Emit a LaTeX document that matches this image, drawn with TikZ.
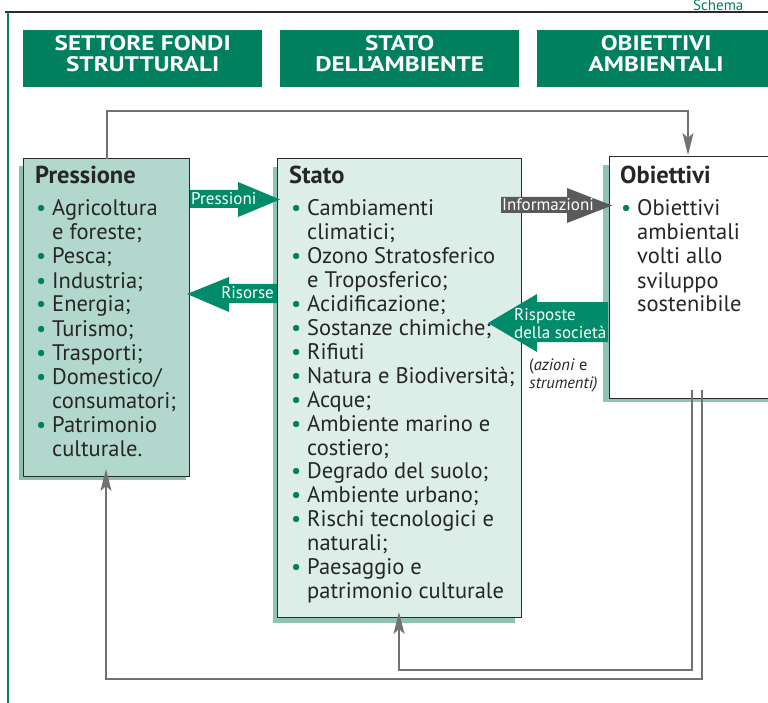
\documentclass[tikz,border=0pt]{standalone}
\usepackage{fontspec}
\setmainfont{PT Sans}
\newfontfamily\headfont[FakeStretch=1.2]{PT Sans}
\usetikzlibrary{arrows.meta}
\definecolor{hgreen}{HTML}{00805F}
\definecolor{agreen}{HTML}{008C6B}
\definecolor{pfill}{HTML}{B2D7CC}
\definecolor{pshadow}{HTML}{8BBFAE}
\definecolor{sfill}{HTML}{DDEEE8}
\definecolor{sshadow}{HTML}{8FC3B3}
\definecolor{lgray}{HTML}{727274}
\definecolor{igray}{HTML}{5A5A5C}
\definecolor{bord}{HTML}{2A2A2A}
\newcommand\bul{\makebox[16pt][l]{\textcolor{hgreen}{•}}}
\newcommand\ind{\hspace*{16pt}}
\begin{document}
\begin{tikzpicture}[x=1pt,y=-1pt,
  header/.style={fill=hgreen, minimum height=57pt, inner sep=0, anchor=north west},
  htext/.style={text=white, font=\headfont\bfseries\fontsize{21}{21.5}\selectfont, align=center, inner sep=0},
  boxnode/.style={draw=bord, line width=1pt, inner sep=0, outer sep=0, anchor=north west},
  item/.style={anchor=base west, inner sep=0, font=\fontsize{22.5}{24}\selectfont, text=black!85},
  title/.style={anchor=base west, inner sep=0, font=\bfseries\fontsize{24.5}{24}\selectfont, text=black!85},
  alabel/.style={inner sep=0, text=white, font=\fontsize{17}{18}\selectfont},
  small/.style={anchor=base west, inner sep=0, font=\fontsize{16.5}{18}\selectfont, text=black!85},
  conn/.style={draw=lgray, line width=2pt},
  tip/.style={-{Stealth[length=22pt,width=11pt,inset=5pt]}}
]
\useasboundingbox (0,0) rectangle (768,703);
% frame
\draw[line width=2.5pt, bord] (5,12) -- (770,12);
\draw[line width=2pt, hgreen] (8,12) -- (8,705);
\node[anchor=base west, inner sep=0, text=hgreen, font=\fontsize{15}{15}\selectfont] (schema) at (693,10.5) {Schema};
% headers
\node[header, minimum width=239pt] (h1) at (23,30) {};
\node[htext] (h1t) at ([yshift=5pt]h1.center) {SETTORE FONDI\\STRUTTURALI};
\node[header, minimum width=239pt] (h2) at (280,30) {};
\node[htext] (h2t) at ([yshift=5pt]h2.center) {STATO\\DELL’AMBIENTE};
\node[header, minimum width=238pt] (h3) at (537,30) {};
\node[htext] (h3t) at ([yshift=5pt]h3.center) {OBIETTIVI\\AMBIENTALI};
% boxes
\fill[pshadow] (19,166) rectangle (186,480);
\node[boxnode, fill=pfill, minimum width=166pt, minimum height=317pt] (press) at (23,159) {};
\fill[sshadow] (273,167) rectangle (515,623);
\node[boxnode, fill=sfill, minimum width=244pt, minimum height=458pt] (stato) at (277,159) {};
\fill[sshadow] (603,165) rectangle (780,402);
\node[boxnode, fill=white, minimum width=171pt, minimum height=241pt] (obj) at (609,157) {};
% titles
\node[title] (tp) at (35,184) {Pressione};
\node[title] (ts) at (289,184) {Stato};
\node[title] (to) at (620,184) {Obiettivi};
% lists
\foreach \t [count=\i] in {{\bul Agricoltura},{\ind e foreste;},{\bul Pesca;},{\bul Industria;},{\bul Energia;},{\bul Turismo;},{\bul Trasporti;},{\bul Domestico/},{\ind consumatori;},{\bul Patrimonio},{\ind culturale.}}
  \node[item] (pl\i) at (36,{216+(\i-1)*24}) {\t};
\foreach \t [count=\i] in {{\bul Cambiamenti},{\ind climatici;},{\bul Ozono Stratosferico},{\ind e Troposferico;},{\bul Acidificazione;},{\bul Sostanze chimiche;},{\bul Rifiuti},{\bul Natura e Biodiversità;},{\bul Acque;},{\bul Ambiente marino e},{\ind costiero;},{\bul Degrado del suolo;},{\bul Ambiente urbano;},{\bul Rischi tecnologici e},{\ind naturali;},{\bul Paesaggio e},{\ind patrimonio culturale}}
  \node[item] (sl\i) at (291,{216+(\i-1)*23.9}) {\t};
\foreach \t [count=\i] in {{\bul Obiettivi},{\ind ambientali},{\ind volti allo},{\ind sviluppo},{\ind sostenibile}}
  \node[item] (ol\i) at (621,{216+(\i-1)*24}) {\t};
% block arrows
\fill[agreen] (190,190) -- (238,190) -- (238,182) -- (280,199.5) -- (238,217) -- (238,208) -- (190,208) -- cycle;
\node[alabel, anchor=west] (lpress) at (191,199) {Pressioni};
\fill[agreen] (187,294) -- (229,277) -- (229,284) -- (277,284) -- (277,303) -- (229,303) -- (229,312) -- cycle;
\node[alabel, anchor=east] (lris) at (274,293) {Risorse};
\fill[igray] (501,197) -- (567,197) -- (567,188) -- (612,205.5) -- (567,223) -- (567,213) -- (501,213) -- cycle;
\node[alabel, anchor=west] (linf) at (502,205) {Informazioni};
\fill[agreen] (488,323) -- (537,294) -- (537,302) -- (608,302) -- (608,342) -- (537,342) -- (537,352) -- cycle;
\node[alabel, anchor=west, align=left] (lrisp) at (514,324) {Risposte\\della società};
\node[small] (az1) at (529,370) {(\textit{azioni} e};
\node[small] (az2) at (529,388) {\textit{strumenti)}};
% connectors
\draw[conn, tip] (107,0 |- press.north) -- (107,111) -| (688,155);
\draw[conn, tip] (692,390) -- (692,670) -| (399,612);
\draw[conn, tip] (702,390) -- (702,679) -| (106,469);
\end{tikzpicture}
\end{document}
